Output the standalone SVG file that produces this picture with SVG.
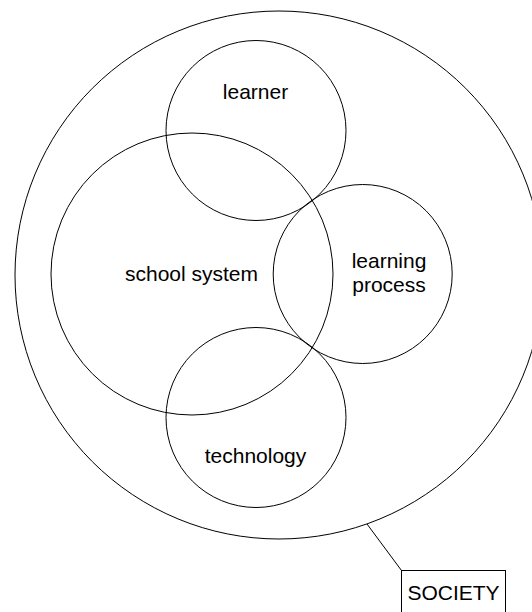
<svg xmlns="http://www.w3.org/2000/svg" width="532" height="612" viewBox="0 0 532 612">
<style>
.shape{fill:none;stroke:#000;stroke-width:1}
.lbl{font-family:"Liberation Sans",Arial,sans-serif;font-size:21px;fill:#000;text-anchor:middle}
</style>
<rect width="532" height="612" fill="#fff"/>
<g id="society">
<circle class="shape" cx="279" cy="275" r="264"/>
</g>
<g id="learner">
<circle class="shape" cx="256" cy="130.5" r="90"/>
<text class="lbl" x="255.5" y="99">learner</text>
</g>
<g id="school-system">
<circle class="shape" cx="192" cy="274" r="141"/>
<text class="lbl" x="191.5" y="281">school system</text>
</g>
<g id="learning-process">
<circle class="shape" cx="362.7" cy="274" r="89.5"/>
<text class="lbl" x="389" y="268">learning</text>
<text class="lbl" x="389" y="292">process</text>
</g>
<g id="technology">
<circle class="shape" cx="256" cy="417.5" r="90"/>
<text class="lbl" x="255.5" y="463">technology</text>
</g>
<g id="connectors">
<line class="shape" x1="367" y1="524" x2="401.5" y2="570.5"/>
</g>
<g id="society-label">
<rect class="shape" x="401.5" y="570.5" width="104" height="50"/>
<text class="lbl" x="453.5" y="600">SOCIETY</text>
</g>
</svg>
